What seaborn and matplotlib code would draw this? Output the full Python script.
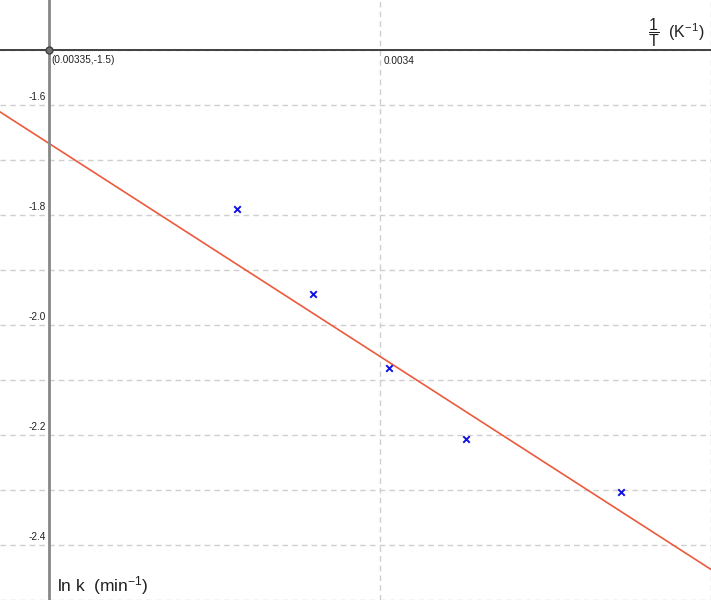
import numpy as np
import pandas as pd
import matplotlib
matplotlib.use("Agg")
import matplotlib.pyplot as plt
import matplotlib.transforms as mtrans
import seaborn as sns

# data
temps_K = [296, 295, 294, 293, 291]
ln_k = [-1.790, -1.945, -2.079, -2.208, -2.303]
fit_slope = -7740.0          # ln k per (1/K)
fit_intercept = 24.2585      # ln k at 1/T = 0
origin = (0.00335, -1.5)
x_range = (0.0033426, 0.00345)
y_range = (-2.5, -1.41)
x_grid = [0.00335, 0.0034, 0.00345]
y_grid = [-1.5, -1.6, -1.7, -1.8, -1.9, -2.0, -2.1, -2.2, -2.3, -2.4, -2.5]
y_labels = [-1.6, -1.8, -2.0, -2.2, -2.4]
x_labels = [0.0034]

sns.set_style("white")
plt.rcParams["font.family"] = ["Liberation Sans", "DejaVu Sans"]
plt.rcParams["mathtext.fontset"] = "custom"
plt.rcParams["mathtext.rm"] = "Liberation Sans"
plt.rcParams["mathtext.it"] = "Liberation Sans"

pts = pd.DataFrame({"invT": 1.0 / np.array(temps_K), "lnk": ln_k})
line_x = np.array(x_range)
fit = pd.DataFrame({"invT": line_x, "lnk": fit_intercept + fit_slope * line_x})

fig = plt.figure(figsize=(7.11, 6), dpi=100)
ax = fig.add_axes([0, 0, 1, 1])

ax.set_xlim(*x_range)
ax.set_ylim(*y_range)
ax.set_xticks(x_grid)
ax.set_yticks(y_grid)
ax.grid(True, ls=(0, (4, 3)), color="#cfcfcf", lw=1)
ax.tick_params(length=0, labelleft=False, labelbottom=False)

sns.lineplot(data=fit, x="invT", y="lnk", color="#ec5a3c", lw=1.2, ax=ax)
sns.scatterplot(data=pts, x="invT", y="lnk", marker="x", color="#1010e0",
                s=22, linewidth=1.4, ax=ax, zorder=5)
ax.set_xlabel("")
ax.set_ylabel("")

for s in ["top", "right"]:
    ax.spines[s].set_visible(False)
ax.spines["left"].set_position(("data", origin[0]))
ax.spines["bottom"].set_position(("data", origin[1]))
ax.spines["left"].set_color("#888888")
ax.spines["left"].set_linewidth(2)
ax.spines["bottom"].set_color("#404040")
ax.spines["bottom"].set_linewidth(1.4)

ax.plot(*origin, marker="o", ms=5, mfc="#707070", mec="#404040", mew=1, zorder=6, clip_on=False)

for v in y_labels:
    tr = mtrans.offset_copy(ax.transData, fig=fig, x=-3, y=8, units="dots")
    ax.text(origin[0], v, f"{v:.1f}", transform=tr, ha="right", va="center", fontsize=7.2, color="#202020")
for v in x_labels:
    tr = mtrans.offset_copy(ax.transData, fig=fig, x=4, y=-11, units="dots")
    ax.text(v, origin[1], f"{v:g}", transform=tr, ha="left", va="center", fontsize=7.2, color="#202020")
tr = mtrans.offset_copy(ax.transData, fig=fig, x=2, y=-10, units="dots")
ax.text(origin[0], origin[1], f"({origin[0]:g},{origin[1]:g})", transform=tr,
        ha="left", va="center", fontsize=7.2, color="#202020")

ax.text(704 / 711, 1 - 33 / 600, r"$\dfrac{1}{\mathrm{T}}$  (K$^{-1}$)", transform=ax.transAxes,
        ha="right", va="center", fontsize=11.5, color="#202020")
ax.text(57 / 711, 1 - 586 / 600, r"ln k  (min$^{-1}$)", transform=ax.transAxes,
        ha="left", va="center", fontsize=12.5, color="#202020")

fig.savefig("out.png", dpi=100)
